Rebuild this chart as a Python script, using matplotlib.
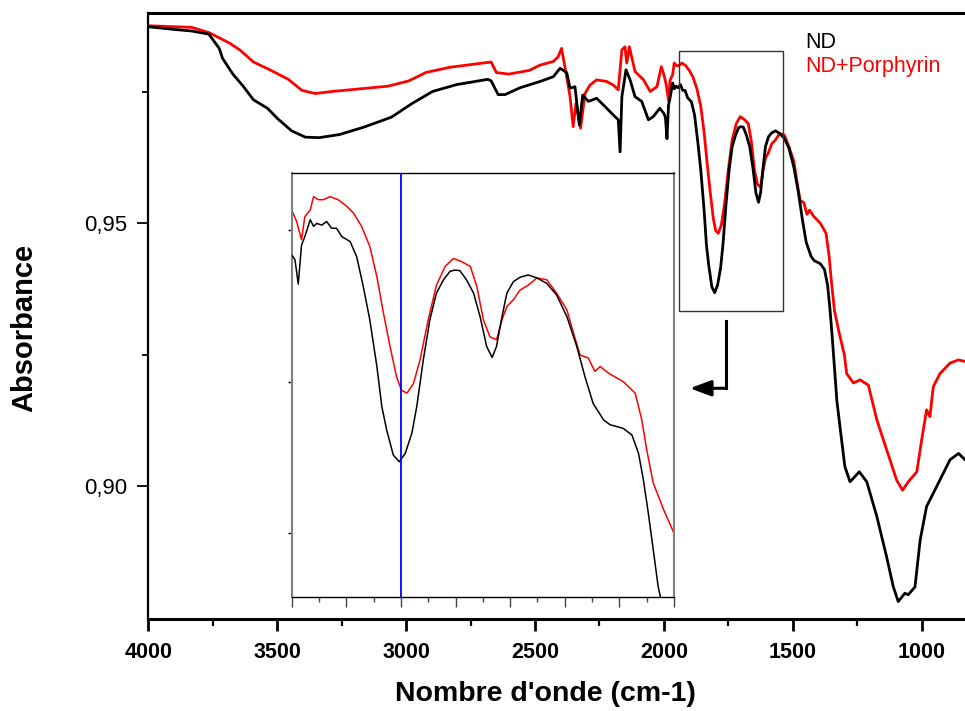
import matplotlib
matplotlib.use('Agg')
import matplotlib.pyplot as plt
from matplotlib.patches import Rectangle

plt.rcParams['font.family'] = ['Liberation Sans', 'DejaVu Sans']

# ---- data ----
wn_nd = [3999, 3899, 3832, 3765, 3725, 3712, 3672, 3632, 3592, 3538, 3498, 3444, 3391, 3337,
         3258, 3164, 3057, 2977, 2897, 2804, 2683, 2670, 2643, 2616, 2558, 2480, 2429, 2403,
         2377, 2364, 2345, 2328, 2315, 2293, 2261, 2228, 2196, 2177, 2170, 2163, 2147, 2131,
         2112, 2086, 2060, 2041, 2016,
         2000, 1994, 1988, 1982, 1976, 1966, 1960, 1954, 1945, 1936, 1927, 1918, 1908, 1893,
         1881, 1869, 1857, 1844, 1835, 1826, 1814, 1803, 1792, 1780, 1771, 1759, 1747, 1735,
         1722, 1710, 1701, 1692, 1680, 1667, 1655, 1643, 1633, 1625, 1615, 1606, 1594, 1582,
         1567, 1551, 1533, 1515, 1496, 1478, 1463, 1448, 1429, 1417, 1393, 1377, 1365, 1356,
         1347, 1338, 1329,
         1317, 1298, 1278, 1242, 1213, 1174, 1136, 1110, 1091, 1065, 1052, 1026, 1006, 981,
         942, 890, 857, 832]
abs_nd = [0.9874, 0.9869, 0.9866, 0.9860, 0.9833, 0.9814, 0.9784, 0.9761, 0.9735, 0.9719,
          0.9699, 0.9676, 0.9664, 0.9663, 0.9669, 0.9683, 0.9702, 0.9728, 0.9751, 0.9764,
          0.9774, 0.9771, 0.9745, 0.9745, 0.9758, 0.9770, 0.9779, 0.9795, 0.9787, 0.9757,
          0.9760, 0.9687, 0.9744, 0.9732, 0.9738, 0.9722, 0.9706, 0.9697, 0.9636, 0.9741,
          0.9792, 0.9773, 0.9741, 0.9732, 0.9697, 0.9703, 0.9719,
          0.9709, 0.9701, 0.9661, 0.9725, 0.9739, 0.9767, 0.9756, 0.9761, 0.9758, 0.9764,
          0.9753, 0.9753, 0.9739, 0.9731, 0.9706, 0.9657, 0.9602, 0.9525, 0.9459, 0.9420,
          0.9379, 0.9368, 0.9382, 0.9415, 0.9459, 0.9536, 0.9602, 0.9646, 0.9668, 0.9682,
          0.9684, 0.9683, 0.9668, 0.9646, 0.9607, 0.9558, 0.9540, 0.9558, 0.9607, 0.9646,
          0.9665, 0.9672, 0.9676, 0.9671, 0.9662, 0.9643, 0.9607, 0.9558, 0.9508, 0.9464,
          0.9437, 0.9429, 0.9423, 0.9412, 0.9382, 0.9338, 0.9283, 0.9223, 0.9162,
          0.9113, 0.9037, 0.9008, 0.9027, 0.9008, 0.8942, 0.8865, 0.8808, 0.8780, 0.8796,
          0.8793, 0.8808, 0.8897, 0.8961, 0.8999, 0.9050, 0.9062, 0.9050]

wn_ndp = [3999, 3832, 3765, 3725, 3685, 3645, 3592, 3524, 3457, 3404, 3352, 3285, 3177, 3070,
          2990, 2923, 2830, 2750, 2670, 2650, 2602, 2522, 2481, 2429, 2410, 2397, 2384, 2364,
          2352, 2341, 2323, 2306, 2287, 2261, 2222, 2196, 2177, 2163, 2151, 2144, 2134, 2112,
          2079, 2053, 2027, 2010,
          2000, 1991, 1982, 1976, 1966, 1960, 1951, 1942, 1930, 1915, 1899, 1887, 1872, 1857,
          1844, 1832, 1820, 1808, 1799, 1789, 1777, 1765, 1750, 1735, 1719, 1704, 1689, 1673,
          1661, 1649, 1637, 1625, 1615, 1606, 1594, 1582, 1567, 1551, 1533, 1515, 1496, 1484,
          1472, 1457, 1445, 1435, 1420, 1393, 1371, 1359, 1350, 1338, 1319, 1300,
          1291, 1265, 1239, 1207, 1174, 1136, 1097, 1074, 1052, 1019, 1000, 981, 968, 955,
          929, 890, 857, 832]
abs_ndp = [0.9876, 0.9873, 0.9863, 0.9853, 0.9843, 0.9830, 0.9807, 0.9791, 0.9774, 0.9753,
           0.9747, 0.9751, 0.9756, 0.9761, 0.9771, 0.9787, 0.9797, 0.9802, 0.9807, 0.9787,
           0.9784, 0.9791, 0.9801, 0.9808, 0.9817, 0.9833, 0.9798, 0.9741, 0.9684, 0.9728,
           0.9681, 0.9747, 0.9763, 0.9773, 0.9770, 0.9763, 0.9754, 0.9830, 0.9836, 0.9805,
           0.9836, 0.9789, 0.9773, 0.9751, 0.9760, 0.9798,
           0.9783, 0.9764, 0.9734, 0.9772, 0.9783, 0.9805, 0.9800, 0.9800, 0.9805, 0.9800,
           0.9789, 0.9778, 0.9756, 0.9723, 0.9673, 0.9613, 0.9558, 0.9508, 0.9486, 0.9481,
           0.9497, 0.9536, 0.9602, 0.9659, 0.9690, 0.9703, 0.9698, 0.9690, 0.9657, 0.9602,
           0.9574, 0.9569, 0.9602, 0.9624, 0.9635, 0.9651, 0.9659, 0.9671, 0.9668, 0.9646,
           0.9618, 0.9580, 0.9544, 0.9539, 0.9517, 0.9525, 0.9514, 0.9500, 0.9481, 0.9437,
           0.9388, 0.9333, 0.9289, 0.9250,
           0.9214, 0.9196, 0.9202, 0.9192, 0.9126, 0.9069, 0.9011, 0.8992, 0.9008, 0.9027,
           0.9088, 0.9145, 0.9132, 0.9189, 0.9214, 0.9234, 0.9240, 0.9237]

series_labels = ['ND', 'ND+Porphyrin']
x_major = [4000, 3500, 3000, 2500, 2000, 1500, 1000]
x_minor = [3750, 3250, 2750, 2250, 1750, 1250]
y_major = [0.90, 0.95]
y_major_labels = ['0,90', '0,95']
y_minor = [0.925, 0.975]
inset_x_major = [2000, 1900, 1800, 1700, 1600, 1500, 1400, 1300]
inset_x_minor = [1950, 1850, 1750, 1650, 1550, 1450, 1350]
inset_y_ticks = [0.925, 0.95, 0.975]
inset_marker = 1800
zoom_box = (1539, 1941, 0.93331, 0.98279)

# ---- layout ----
W, H = 965, 711
fig = plt.figure(figsize=(W / 100, H / 100), dpi=100)


def box(l, t, r, b):
    return [l / W, 1 - b / H, (r - l) / W, (b - t) / H]


ax = fig.add_axes(box(148.3, 13.3, 965, 619.3))
ax.plot(wn_nd, abs_nd, color='black', lw=2.0, zorder=3)
ax.plot(wn_ndp, abs_ndp, color='#ff0000', lw=2.0, zorder=2)
ax.set_xlim(4000, 832)
ax.set_ylim(0.87463, 0.98997)

ax.spines['right'].set_visible(False)
ax.spines['top'].set_linewidth(2.2)
ax.spines['bottom'].set_linewidth(2.2)
ax.spines['left'].set_linewidth(1.6)

ax.set_xticks(x_major, labels=[str(v) for v in x_major], fontsize=15.5, fontweight='bold')
ax.set_xticks(x_minor, minor=True)
ax.set_yticks(y_major, labels=y_major_labels, fontsize=16)
ax.set_yticks(y_minor, minor=True)
ax.tick_params(axis='x', which='major', direction='out', length=8.6, width=2.0, pad=8)
ax.tick_params(axis='x', which='minor', direction='out', length=4.8, width=1.6)
ax.tick_params(axis='y', which='major', direction='out', length=7.9, width=1.3, pad=7)
ax.tick_params(axis='y', which='minor', direction='out', length=4.3, width=1.3)
ax.tick_params(top=False, right=False, which='both')

ax.set_xlabel("Nombre d'onde (cm-1)", fontsize=20.5, fontweight='bold')
ax.xaxis.set_label_coords(0.4857, -0.1233)
ax.xaxis.label.set_va('center')
ax.set_ylabel('Absorbance', fontsize=21, fontweight='bold')
ax.yaxis.set_label_coords(-0.1522, 0.4815)
ax.yaxis.label.set_va('center')

# zoom box
ax.add_patch(Rectangle((zoom_box[0], zoom_box[2]), zoom_box[1] - zoom_box[0],
                       zoom_box[3] - zoom_box[2], fill=False, ec='#333333', lw=1.0, zorder=4))
# arrow
ax.plot([1759, 1759], [0.93146, 0.9186], color='black', lw=2.2, solid_capstyle='projecting', zorder=4)
ax.annotate('', xy=(1899, 0.9186), xytext=(1759, 0.9186),
            arrowprops=dict(arrowstyle='-|>,head_length=0.8,head_width=0.3', color='black',
                            lw=2.2, shrinkA=0, shrinkB=0, mutation_scale=16), zorder=4)

# legend text
fig.text(805 / W, 1 - 48 / H, series_labels[0], fontsize=15.5, color='black', ha='left', va='baseline')
fig.text(805 / W, 1 - 72.3 / H, series_labels[1], fontsize=15.5, color='#ff0000', ha='left', va='baseline')

# ---- inset ----
axi = fig.add_axes(box(291.7, 172.7, 674, 596.7))
axi.set_facecolor('white')
axi.plot(wn_nd, abs_nd, color='black', lw=1.1, zorder=3)
axi.plot(wn_ndp, abs_ndp, color='#ff0000', lw=1.1, zorder=2)
axi.axvline(inset_marker, color='#0000ff', lw=1.3, zorder=4)
axi.set_xlim(2000, 1300)
axi.set_ylim(0.91455, 0.98445)
axi.set_xticks(inset_x_major, labels=[])
axi.set_xticks(inset_x_minor, minor=True)
axi.set_yticks(inset_y_ticks, labels=[])
axi.tick_params(axis='x', which='major', direction='out', length=7.2, width=1.0, color='#444444')
axi.tick_params(axis='x', which='minor', direction='out', length=3.6, width=1.0, color='#444444')
axi.tick_params(axis='y', which='major', direction='out', length=3.0, width=1.0)
for s in ('left', 'right'):
    axi.spines[s].set_color('#808080')
    axi.spines[s].set_linewidth(1.5)
for s in ('top', 'bottom'):
    axi.spines[s].set_color('black')
    axi.spines[s].set_linewidth(1.0)

fig.savefig('out.png', dpi=100)
